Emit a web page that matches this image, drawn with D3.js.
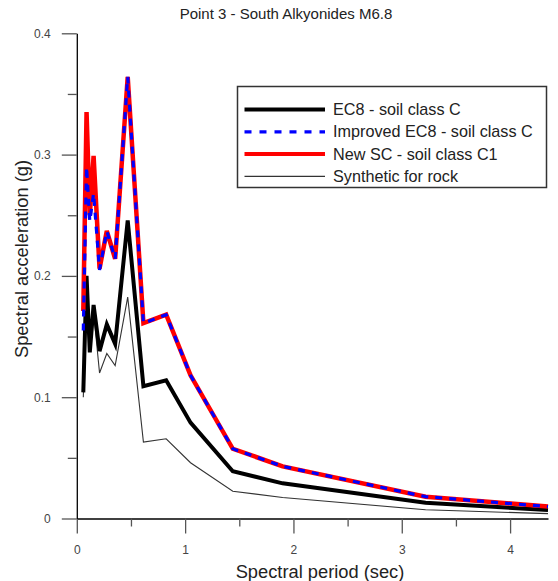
<!DOCTYPE html>
<html><head><meta charset="utf-8">
<script src="https://cdn.jsdelivr.net/npm/d3@7"></script>
<style>
body{margin:0;background:#fff;}
svg{display:block;font-family:"Liberation Sans",Arial,sans-serif;}
</style></head>
<body><svg id="c" width="558" height="581"></svg>
<script>
const periods = [0.06, 0.09, 0.12, 0.155, 0.21, 0.277, 0.354, 0.47, 0.615, 0.825, 1.05, 1.44, 1.9, 3.22, 4.35];
const ec8 = [0.104, 0.2, 0.137, 0.176, 0.138, 0.16, 0.144, 0.2457, 0.109, 0.114, 0.079, 0.039, 0.029, 0.0129, 0.007];
const improvedEc8 = [0.155, 0.29, 0.245, 0.268, 0.205, 0.237, 0.214, 0.364, 0.161, 0.168, 0.118, 0.0575, 0.043, 0.018, 0.0098];
const newSc = [0.171, 0.335, 0.25, 0.299, 0.206, 0.237, 0.214, 0.364, 0.161, 0.168, 0.118, 0.0575, 0.043, 0.018, 0.0098];
const synthetic = [0.1, 0.19, 0.14, 0.17, 0.12, 0.136, 0.126, 0.1825, 0.063, 0.0657, 0.046, 0.0225, 0.0173, 0.0072, 0.004];
const xTicks = [0, 1, 2, 3, 4];
const xMinor = [0.5, 1.5, 2.5, 3.5];
const yTicks = [0, 0.1, 0.2, 0.3, 0.4];
const yMinor = [0.05, 0.15, 0.25, 0.35];
const seriesNames = ["EC8 - soil class C", "Improved EC8 - soil class C", "New SC - soil class C1", "Synthetic for rock"];

const svg = d3.select("#c");
const x = d3.scaleLinear().domain([0, 4.35]).range([76.8, 548]);
const y = d3.scaleLinear().domain([0, 0.4]).range([518.5, 33.3]);

// Title
svg.append("text").attr("x", 286).attr("y", 19).attr("text-anchor", "middle")
  .attr("font-size", 15).attr("fill", "#222").text("Point 3 - South Alkyonides M6.8");

// Axes
const gx = svg.append("g").attr("transform", `translate(0,${y(0)})`);
gx.call(d3.axisBottom(x).tickValues(xTicks).tickSize(15).tickSizeOuter(0).tickPadding(12).tickFormat(d3.format("d")));
const gxm = svg.append("g").attr("transform", `translate(0,${y(0)})`);
gxm.call(d3.axisBottom(x).tickValues(xMinor).tickSize(8).tickSizeOuter(0).tickFormat(""));
gxm.select(".domain").remove();

const gy = svg.append("g").attr("transform", `translate(${x(0)},0)`);
gy.call(d3.axisLeft(y).tickValues(yTicks).tickSize(15).tickSizeOuter(0).tickPadding(11).tickFormat(d => d === 0 ? "0" : d3.format(".1f")(d)));
const gym = svg.append("g").attr("transform", `translate(${x(0)},0)`);
gym.call(d3.axisLeft(y).tickValues(yMinor).tickSize(9).tickSizeOuter(0).tickFormat(""));
gym.select(".domain").remove();

svg.selectAll(".domain").attr("stroke", "#000").attr("stroke-width", 1.3);
svg.selectAll(".tick line").attr("stroke", "#555").attr("stroke-width", 1.3);
svg.selectAll(".tick text").attr("font-size", 12).attr("fill", "#444")
  .attr("font-family", "'Liberation Sans',Arial,sans-serif");

// Axis titles
svg.append("text").attr("x", 320).attr("y", 578).attr("text-anchor", "middle")
  .attr("font-size", 18.3).attr("fill", "#222").text("Spectral period (sec)");
svg.append("text").attr("transform", "translate(28,259) rotate(-90)").attr("text-anchor", "middle")
  .attr("font-size", 18.3).attr("fill", "#222").text("Spectral acceleration (g)");

// Lines
const line = d3.line().x(d => x(d[0])).y(d => y(d[1]));
const mk = arr => periods.map((p, i) => [p, arr[i]]);
const styles = [
  {data: synthetic, stroke: "#333", w: 1.1, dash: null},
  {data: ec8, stroke: "#000", w: 4, dash: null},
  {data: newSc, stroke: "#ff0000", w: 4.5, dash: null},
  {data: improvedEc8, stroke: "#0000ff", w: 3.2, dash: "7,7"}
];
styles.forEach(s => {
  svg.append("path").datum(mk(s.data)).attr("d", line).attr("fill", "none")
    .attr("stroke", s.stroke).attr("stroke-width", s.w).attr("stroke-linejoin", "miter")
    .attr("stroke-miterlimit", 4).attr("stroke-dasharray", s.dash);
});

// Legend
const lg = svg.append("g");
lg.append("rect").attr("x", 237.5).attr("y", 86.5).attr("width", 309).attr("height", 101)
  .attr("fill", "#fff").attr("stroke", "#333").attr("stroke-width", 1.5);
const legItems = [
  {name: seriesNames[0], stroke: "#000", w: 4, dash: null},
  {name: seriesNames[1], stroke: "#0000ff", w: 3.2, dash: "7,8"},
  {name: seriesNames[2], stroke: "#ff0000", w: 4, dash: null},
  {name: seriesNames[3], stroke: "#333", w: 1.1, dash: null}
];
legItems.forEach((it, i) => {
  const yy = 109.5 + i * 22.3;
  lg.append("line").attr("x1", 244.5).attr("x2", 325).attr("y1", yy).attr("y2", yy)
    .attr("stroke", it.stroke).attr("stroke-width", it.w).attr("stroke-dasharray", it.dash);
  lg.append("text").attr("x", 333).attr("y", yy + 5.5).attr("font-size", 16.2).attr("fill", "#222").text(it.name);
});
</script></body></html>
